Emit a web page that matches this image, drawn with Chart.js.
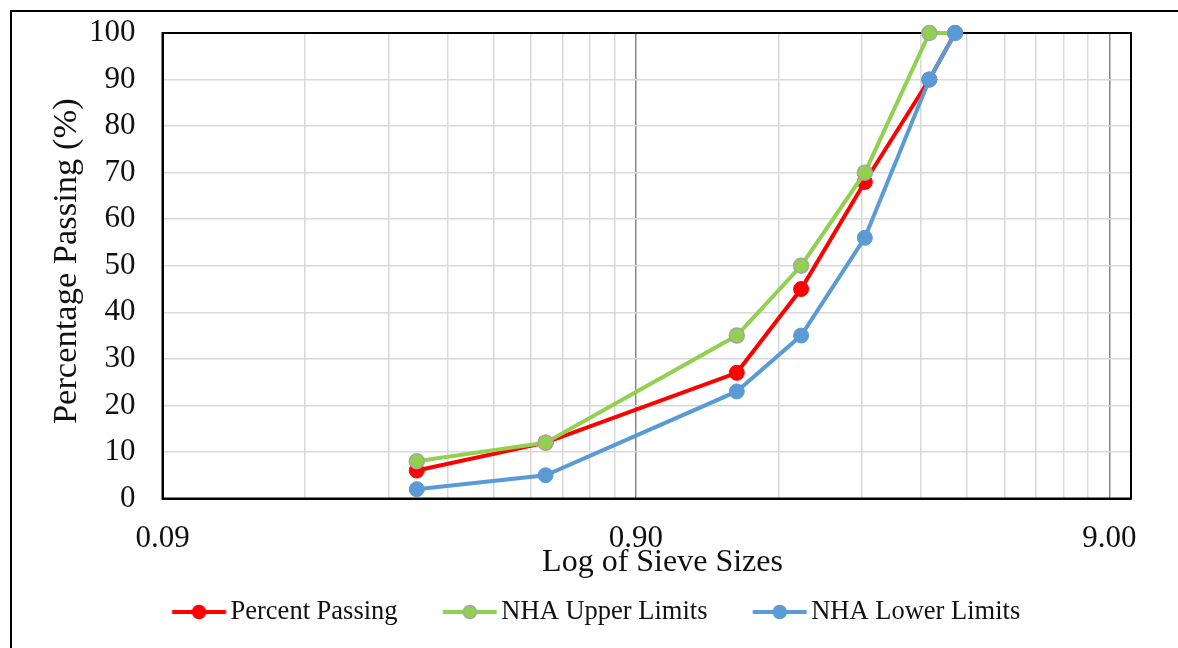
<!DOCTYPE html>
<html>
<head>
<meta charset="utf-8">
<script src="https://cdn.jsdelivr.net/npm/chart.js@4.4.1/dist/chart.umd.min.js"></script>
<style>
  html, body { margin: 0; padding: 0; background: #fff; }
  #wrap { width: 1178px; height: 648px; }
</style>
</head>
<body>
<div id="wrap"><canvas id="grading" width="1178" height="648"></canvas></div>
<script>
// Sieve sizes (x) and passing percentages for each curve
const sieveSizes     = [0.31, 0.58, 1.47, 2.01, 2.74, 3.75, 4.25];
const percentPassing = [6, 12, 27, 45, 68, 90, 100];
const nhaUpperLimits = [8, 12, 35, 50, 70, 100, 100];
const nhaLowerLimits = [2, 5, 23, 35, 56, 90, 100];

// Axis ticks
const xDecadeStarts = [0.09, 0.9, 9];        // labelled, darker grid lines
const xTickLabels   = ['0.09', '0.90', '9.00'];
const xMultiples    = [1, 2, 3, 4, 5, 6, 7, 8, 9];
const xMin = 0.09, xMax = 10;
const yMin = 0, yMax = 100, yStep = 10;

const seriesNames = ['Percent Passing', 'NHA Upper Limits', 'NHA Lower Limits'];

const FONT = '"Liberation Serif", "Times New Roman", serif';
const TEXT = '#111';

const points = (ys) => sieveSizes.map((x, i) => ({ x, y: ys[i] }));

const isDecade = (v) => xDecadeStarts.some(d => Math.abs(v - d) / d < 1e-6);

// Legend glyph: short line with a marker in the middle, placed so the
// line sits just before the label text
function legendGlyph(color, fill, border) {
  const c = document.createElement('canvas');
  c.width = 70; c.height = 18;
  const g = c.getContext('2d');
  const x0 = 14.5, x1 = 68.5, cy = 9;
  g.strokeStyle = color; g.lineWidth = 4;
  g.beginPath(); g.moveTo(x0, cy); g.lineTo(x1, cy); g.stroke();
  g.beginPath(); g.arc((x0 + x1) / 2, cy, 6.5, 0, Math.PI * 2);
  g.fillStyle = fill; g.fill();
  g.lineWidth = 1.5; g.strokeStyle = border; g.stroke();
  return c;
}

const styles = [
  { line: '#FF0000', fill: '#FF0000', border: '#FF0000' },
  { line: '#92D050', fill: '#92D050', border: '#A5A5A5' },
  { line: '#5B9BD5', fill: '#5B9BD5', border: '#5B9BD5' }
];
const glyphs = styles.map(s => legendGlyph(s.line, s.fill, s.border));

const frame = {
  id: 'frame',
  beforeDraw(chart) {
    const ctx = chart.ctx;
    ctx.save();
    ctx.strokeStyle = '#000'; ctx.lineWidth = 2;
    ctx.beginPath();
    ctx.moveTo(11, chart.height); ctx.lineTo(11, 11); ctx.lineTo(chart.width, 11);
    ctx.stroke();
    ctx.restore();
  },
  beforeDatasetsDraw(chart) {
    const { ctx, chartArea: a } = chart;
    ctx.save();
    ctx.strokeStyle = '#000'; ctx.lineWidth = 2;
    ctx.strokeRect(a.left, a.top, a.right - a.left, a.bottom - a.top);
    ctx.restore();
  },
  afterDraw(chart) {
    const { ctx, chartArea: a } = chart;
    ctx.save();
    ctx.fillStyle = TEXT;
    ctx.textAlign = 'center'; ctx.textBaseline = 'middle';
    ctx.font = '32px ' + FONT;
    ctx.fillText('Log of Sieve Sizes', a.left + 500, a.bottom + 64);
    ctx.font = '34.5px ' + FONT;
    ctx.translate(67, (a.top + a.bottom) / 2 - 4.5);
    ctx.rotate(-Math.PI / 2);
    ctx.fillText('Percentage Passing (%)', 0, 0);
    ctx.restore();
  }
};

new Chart(document.getElementById('grading'), {
  type: 'line',
  data: {
    datasets: [
      { label: seriesNames[0], data: points(percentPassing), order: 3 },
      { label: seriesNames[1], data: points(nhaUpperLimits), order: 2 },
      { label: seriesNames[2], data: points(nhaLowerLimits), order: 1 }
    ].map((d, i) => Object.assign(d, {
      borderColor: styles[i].line,
      backgroundColor: styles[i].fill,
      pointBackgroundColor: styles[i].fill,
      pointBorderColor: styles[i].border,
      pointBorderWidth: i === 1 ? 1.5 : 1,
      pointRadius: 7.5,
      pointHoverRadius: 7.5,
      borderWidth: 4,
      tension: 0,
      fill: false,
      clip: false
    }))
  },
  options: {
    responsive: false,
    animation: false,
    events: [],
    layout: { padding: { top: 33, right: 47, left: 57, bottom: 12.75 } },
    scales: {
      x: {
        type: 'logarithmic',
        min: xMin, max: xMax,
        afterBuildTicks(scale) {
          const ticks = [];
          xDecadeStarts.forEach(d => xMultiples.forEach(k => {
            const v = d * k;
            if (v <= xMax + 1e-9) ticks.push({ value: v });
          }));
          scale.ticks = ticks;
        },
        afterFit(scale) {
          scale.height = 59.25;
          scale.paddingLeft = 0; scale.paddingRight = 0;
        },
        ticks: {
          autoSkip: false, maxRotation: 0, padding: 22,
          color: TEXT, font: { family: FONT, size: 31 },
          callback(value) {
            const i = xDecadeStarts.findIndex(d => Math.abs(value - d) / d < 1e-6);
            return i >= 0 ? xTickLabels[i] : '';
          }
        },
        grid: {
          drawTicks: false,
          lineWidth: 1.5,
          color: (ctx) => (ctx.tick && isDecade(ctx.tick.value)) ? '#868686' : '#D9D9D9'
        },
        border: { display: true, color: '#000', width: 2 }
      },
      y: {
        min: yMin, max: yMax,
        afterFit(scale) {
          scale.width = 105.5;
          scale.paddingTop = 0; scale.paddingBottom = 0;
        },
        ticks: {
          stepSize: yStep, padding: 27,
          color: TEXT, font: { family: FONT, size: 31 }
        },
        grid: { drawTicks: false, lineWidth: 1.5, color: '#D9D9D9' },
        border: { display: true, color: '#000', width: 2 }
      }
    },
    plugins: {
      tooltip: { enabled: false },
      legend: {
        position: 'bottom',
        labels: {
          usePointStyle: true,
          pointStyleWidth: 49.5,
          boxHeight: 26,
          padding: 41,
          color: TEXT,
          font: { family: FONT, size: 26.5 },
          sort: (a, b) => a.datasetIndex - b.datasetIndex,
          generateLabels(chart) {
            const items = Chart.defaults.plugins.legend.labels.generateLabels(chart);
            items.forEach(it => { it.pointStyle = glyphs[it.datasetIndex]; });
            return items;
          }
        }
      }
    }
  },
  plugins: [frame]
});
</script>
</body>
</html>
